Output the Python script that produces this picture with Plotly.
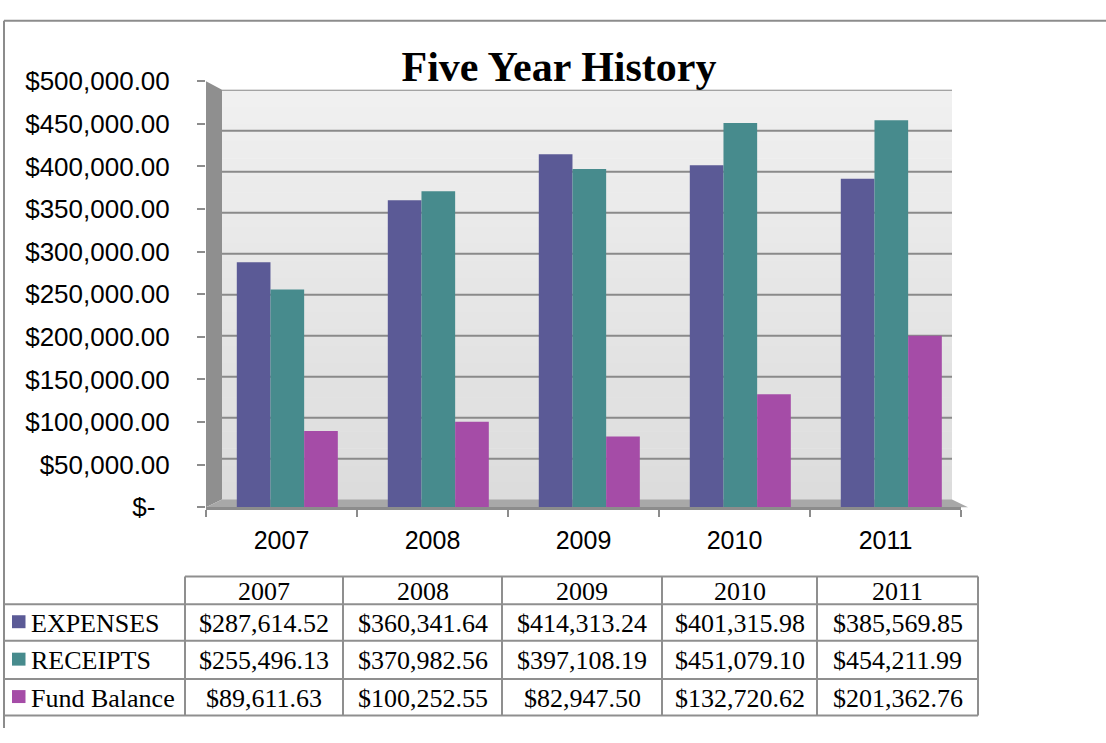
import plotly.graph_objects as go

# ---------------- data ----------------
years = ["2007", "2008", "2009", "2010", "2011"]
series_names = ["EXPENSES", "RECEIPTS", "Fund Balance"]
expenses = [287614.52, 360341.64, 414313.24, 401315.98, 385569.85]
receipts = [255496.13, 370982.56, 397108.19, 451079.10, 454211.99]
fund_balance = [89611.63, 100252.55, 82947.50, 132720.62, 201362.76]
y_tick_vals = [0, 50000, 100000, 150000, 200000, 250000, 300000, 350000, 400000, 450000, 500000]
y_tick_text = ["$-\u00a0\u00a0", "$50,000.00", "$100,000.00", "$150,000.00", "$200,000.00",
               "$250,000.00", "$300,000.00", "$350,000.00", "$400,000.00", "$450,000.00",
               "$500,000.00"]
title_text = "Five Year History"

# ---------------- style ----------------
W, H = 1106, 743
colors = ["#5b5a96", "#478b8d", "#a54ca7"]
GRAY = "#8c8c8c"
SANS = "Liberation Sans, Arial, sans-serif"
SERIF = "Liberation Serif, Times New Roman, serif"
BAR_W = 0.223          # bar width in category units
BAR_START = -0.296     # left edge of first bar relative to category centre


def px(x):
    return x / W


def py(y):
    return 1 - y / H


series_values = [expenses, receipts, fund_balance]

fig = go.Figure()
for k, (name, vals, col) in enumerate(zip(series_names, series_values, colors)):
    fig.add_trace(go.Bar(
        x=years, y=vals, name=name,
        width=BAR_W, offset=BAR_START + k * BAR_W,
        marker=dict(color=col, line=dict(width=0)),
        hovertemplate="%{x}: $%{y:,.2f}<extra>" + name + "</extra>",
    ))

shapes = []
# back wall with a soft vertical gradient (decoration)
wall_top, wall_bot = 78, 505
n_bands = 24
c_top, c_bot = 240, 220
for b in range(n_bands):
    y0 = wall_top + (wall_bot - wall_top) * b / n_bands
    y1 = wall_top + (wall_bot - wall_top) * (b + 1) / n_bands
    c = round(c_top + (c_bot - c_top) * (b + 0.5) / n_bands)
    shapes.append(dict(type="rect", xref="paper", yref="paper",
                       x0=px(222), x1=px(952), y0=py(y1 + 0.5), y1=py(y0),
                       fillcolor=f"rgb({c},{c},{c})", line=dict(width=0), layer="below"))
shapes.append(dict(type="path", xref="paper", yref="paper",
                   path=f"M {px(206)},{py(69)} L {px(222)},{py(78)} L {px(222)},{py(505)} L {px(206)},{py(513)} Z",
                   fillcolor="#8f8f8f", line=dict(width=0), layer="below"))
shapes.append(dict(type="path", xref="paper", yref="paper",
                   path=f"M {px(206)},{py(513)} L {px(222)},{py(505)} L {px(952)},{py(505)} L {px(968)},{py(513)} Z",
                   fillcolor="#a8a8a8", line=dict(width=0), layer="below"))
# back-wall gridlines on the back-wall scale (yaxis2)
for v in y_tick_vals[1:]:
    shapes.append(dict(type="line", xref="paper", yref="y2",
                       x0=px(222), x1=px(952), y0=v, y1=v,
                       line=dict(color="#8a8a8a", width=2), layer="below"))

# outer frame
shapes.append(dict(type="line", xref="paper", yref="paper", x0=px(4), x1=1, y0=py(6), y1=py(6),
                   line=dict(color=GRAY, width=2)))
shapes.append(dict(type="line", xref="paper", yref="paper", x0=px(4), x1=px(4), y0=py(6), y1=0,
                   line=dict(color=GRAY, width=2)))

# ---------------- data table ----------------
col_edges = [185, 343, 502, 662, 817, 978]
row_edges = [585, 614, 652, 692, 730]
TBL = "#8f8f8f"
shapes.append(dict(type="line", xref="paper", yref="paper", x0=px(col_edges[0]), x1=px(col_edges[-1]),
                   y0=py(row_edges[0]), y1=py(row_edges[0]), line=dict(color=TBL, width=2)))
for ry in row_edges[1:]:
    shapes.append(dict(type="line", xref="paper", yref="paper", x0=px(4), x1=px(col_edges[-1]),
                       y0=py(ry), y1=py(ry), line=dict(color=TBL, width=2)))
for cx in col_edges:
    shapes.append(dict(type="line", xref="paper", yref="paper", x0=px(cx), x1=px(cx),
                       y0=py(row_edges[0]), y1=py(row_edges[-1]), line=dict(color=TBL, width=2)))

annotations = []
tfont = dict(family=SERIF, size=26, color="black")
for i, yr in enumerate(years):
    cx = (col_edges[i] + col_edges[i + 1]) / 2
    annotations.append(dict(text=yr, xref="paper", yref="paper", x=px(cx),
                            y=py((row_edges[0] + row_edges[1]) / 2 + 1),
                            xanchor="center", yanchor="middle", showarrow=False, font=tfont))
for r, (name, vals, col) in enumerate(zip(series_names, series_values, colors)):
    cy = (row_edges[r + 1] + row_edges[r + 2]) / 2 + 1
    shapes.append(dict(type="rect", xref="paper", yref="paper",
                       x0=px(12), x1=px(25.5), y0=py(cy + 5), y1=py(cy - 8.5),
                       fillcolor=col, line=dict(width=0)))
    annotations.append(dict(text=name, xref="paper", yref="paper", x=px(29), y=py(cy),
                            xanchor="left", yanchor="middle", showarrow=False, font=tfont))
    for i, v in enumerate(vals):
        cx = (col_edges[i] + col_edges[i + 1]) / 2
        annotations.append(dict(text=f"${v:,.2f}", xref="paper", yref="paper", x=px(cx), y=py(cy),
                                xanchor="center", yanchor="middle", showarrow=False, font=tfont))

fig.update_layout(
    width=W, height=H,
    margin=dict(l=0, r=0, t=0, b=0),
    paper_bgcolor="white",
    plot_bgcolor="rgba(0,0,0,0)",
    showlegend=False,
    barmode="overlay",
    title=dict(text=title_text, x=px(559), xanchor="center", y=py(66), yanchor="middle",
               font=dict(family=SERIF, size=42, color="black", weight="bold")),
    xaxis=dict(domain=[px(206), px(961)], type="category",
               tickfont=dict(family=SANS, size=25, color="black"),
               ticks="outside", tickson="boundaries", ticklen=7, tickcolor=GRAY, tickwidth=2,
               showline=True, linecolor=GRAY, linewidth=3, showgrid=False,
               ticklabelstandoff=9, fixedrange=True),
    yaxis=dict(domain=[py(513), py(69)], range=[0, 500000],
               tickvals=y_tick_vals, ticktext=y_tick_text,
               tickfont=dict(family=SANS, size=26, color="black"),
               ticks="outside", ticklen=8, tickcolor=GRAY, tickwidth=2,
               showline=False, showgrid=False, zeroline=False,
               ticklabelstandoff=22, fixedrange=True),
    xaxis2=dict(domain=[px(222), px(952)], anchor="y2", range=[0, 1], visible=False, fixedrange=True),
    yaxis2=dict(domain=[py(505), py(78)], anchor="x2", range=[0, 500000], visible=False, fixedrange=True),
    shapes=shapes,
    annotations=annotations,
)

fig.write_html("out.html", config={"displayModeBar": False},
               post_script="document.body.style.margin='0';document.body.style.overflow='hidden';")
